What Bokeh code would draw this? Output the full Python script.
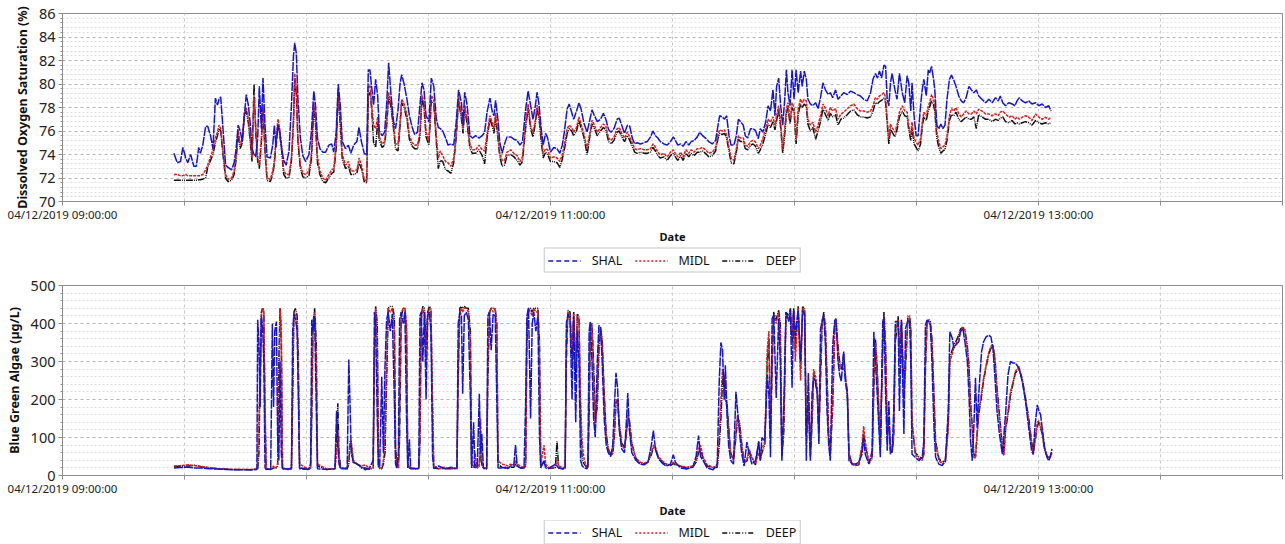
from bokeh.plotting import figure
from bokeh.models import FixedTicker, Legend, LegendItem, Range1d, ColumnDataSource
from bokeh.layouts import column
from bokeh.embed import file_html
from bokeh.resources import INLINE

# ---------------- data ----------------
series_names = ["SHAL", "MIDL", "DEEP"]

# minutes after 04/12/2019 09:00:00
do_minutes = [
    27.4, 28.2, 29.0, 29.6, 30.3, 30.8, 31.5, 32.3, 32.9, 33.5, 33.9, 34.5, 35.2, 35.7, 36.4, 37.0, 37.6, 38.1, 38.5, 38.9,
    39.4, 40.1, 40.7, 41.6, 42.2, 42.7, 43.2, 43.7, 44.2, 44.7, 45.2, 45.7, 46.2, 46.6, 47.1, 47.5, 48.0, 48.4, 48.9, 49.3,
    49.8, 50.3, 51.1, 51.7, 52.1, 52.5, 53.0, 53.4, 53.9, 54.4, 55.0, 55.7, 56.3, 56.8, 57.1, 57.5, 57.9, 58.5, 59.1, 59.8,
    60.6, 61.2, 61.8, 62.2, 62.7, 63.3, 64.0, 64.7, 65.5, 66.2, 66.7, 67.3, 67.8, 68.3, 68.8, 69.6, 70.3, 70.9, 71.6, 72.4,
    72.9, 73.5, 74.2, 74.8, 75.2, 75.6, 76.0, 76.5, 77.0, 77.5, 77.9, 78.6, 79.2, 79.7, 80.2, 80.8, 81.4, 81.9, 82.5, 83.0,
    83.4, 84.0, 84.7, 85.3, 86.0, 86.6, 87.3, 87.9, 88.4, 88.9, 89.4, 90.1, 90.7, 91.3, 91.9, 92.4, 92.9, 93.5, 94.2, 94.8,
    95.5, 96.2, 96.8, 97.4, 98.1, 98.5, 98.9, 99.5, 100.2, 100.8, 101.6, 102.4, 103.2, 103.8, 104.4, 105.1, 105.7, 106.1, 106.5, 107.1,
    107.5, 108.1, 108.7, 109.3, 110.2, 111.0, 111.8, 112.5, 113.1, 113.9, 114.5, 115.1, 115.7, 116.3, 116.7, 117.2, 117.7, 118.2, 118.8, 119.3,
    120.0, 120.8, 121.6, 122.3, 122.9, 123.4, 124.1, 124.6, 125.2, 125.7, 126.4, 127.0, 127.5, 128.2, 129.0, 129.7, 130.2, 130.8, 131.5, 132.3,
    133.0, 133.6, 134.3, 134.9, 135.6, 136.4, 136.9, 137.5, 138.2, 138.9, 139.5, 140.1, 140.7, 141.3, 142.1, 143.0, 143.8, 144.6, 145.2, 145.8,
    146.4, 147.0, 147.9, 148.7, 149.5, 150.2, 150.7, 151.3, 152.0, 152.6, 153.3, 154.0, 154.6, 155.3, 156.1, 156.7, 157.4, 158.1, 158.9, 159.8,
    160.6, 161.2, 161.6, 162.2, 162.8, 163.3, 163.9, 164.4, 165.1, 165.7, 166.2, 166.7, 167.4, 167.9, 168.5, 169.2, 169.8,
    170.4, 171.1, 171.6, 172.2, 172.9, 173.5, 174.1, 174.7, 175.2, 175.6, 176.1, 176.6, 177.1, 177.6, 178.0, 178.4, 178.9, 179.4, 179.9, 180.4,
    180.9, 181.5, 181.9, 182.4, 182.9, 183.3, 183.9, 184.5, 185.2, 185.8, 186.4, 187.0, 187.6, 188.3, 188.8, 189.4, 190.1, 190.7, 191.4, 192.1,
    193.0, 193.8, 194.6, 195.4, 196.2, 197.0, 197.9, 198.7, 199.3, 199.9, 200.4, 200.9, 201.4, 202.0, 202.4, 202.8, 203.2, 203.6, 204.0, 204.7,
    205.2, 205.8, 206.5, 207.1, 207.7, 208.1, 208.6, 208.9, 209.4, 209.9, 210.4, 211.0, 211.4, 211.8, 212.4, 212.9, 213.2, 213.7, 214.2, 214.5,
    215.0, 215.5, 216.0, 216.5, 217.0, 217.5, 218.1, 218.6, 219.2, 219.7, 220.4, 221.0, 221.6, 222.2, 222.9, 223.5, 224.1, 224.7, 225.3, 226.1,
    227.0, 227.8, 228.6, 229.4, 230.1, 230.6, 231.2, 231.9, 232.7, 233.5, 234.2, 234.7, 235.3, 236.0, 236.8, 237.6, 238.4, 239.3, 240.1, 240.9,
    241.7, 242.5, 243.1,
]
do_shal = [
    74.1, 73.3, 73.4, 74.6, 73.7, 73.3, 74.0, 73.0, 73.0, 74.6, 74.1, 74.8, 76.4, 76.4, 75.6, 74.5, 78.8, 78.2, 78.7, 78.9,
    76.5, 73.1, 72.9, 72.7, 73.3, 74.5, 76.5, 76.0, 75.1, 77.3, 79.1, 78.2, 76.5, 74.5, 74.0, 73.8, 75.4, 79.8, 76.2, 80.5,
    76.5, 73.8, 73.7, 74.8, 76.5, 74.6, 76.5, 76.0, 74.5, 73.5, 73.1, 74.3, 78.2, 82.4, 83.5, 82.6, 78.7, 75.4, 73.9, 73.4,
    74.0, 75.9, 79.4, 78.2, 75.4, 74.5, 74.2, 74.2, 74.8, 74.9, 74.2, 75.9, 80.0, 78.2, 75.1, 74.5, 74.8, 74.1, 74.8, 75.1,
    76.3, 75.1, 74.1, 74.0, 81.2, 81.2, 79.8, 78.2, 80.4, 79.0, 76.0, 75.6, 75.9, 78.2, 81.8, 79.0, 76.8, 76.2, 77.8, 80.0,
    80.8, 80.0, 78.7, 77.3, 76.3, 75.7, 75.9, 78.2, 80.1, 79.5, 77.3, 76.8, 80.5, 79.8, 77.1, 76.3, 76.2, 76.0, 75.4, 74.8,
    74.9, 74.8, 76.7, 79.5, 78.4, 76.5, 79.3, 78.2, 75.6, 75.4, 75.6, 75.4, 75.6, 75.9, 77.6, 78.8, 77.6, 77.3, 78.6, 76.9,
    75.1, 74.1, 74.9, 75.5, 75.5, 75.3, 75.2, 74.8, 75.1, 77.9, 79.4, 78.2, 77.0, 78.2, 79.3, 78.2, 76.2, 74.8, 75.8, 75.4,
    74.2, 74.6, 74.5, 74.1, 74.8, 75.9, 77.9, 78.3, 77.6, 77.0, 77.7, 78.4, 77.9, 76.7, 75.9, 77.0, 77.8, 77.3, 76.8, 77.0,
    77.5, 77.0, 76.1, 75.9, 76.2, 77.0, 77.1, 76.5, 75.8, 76.5, 76.4, 75.4, 74.9, 75.0, 74.9, 75.0, 75.1, 75.5, 76.0, 75.6,
    75.4, 75.1, 74.9, 74.8, 75.1, 75.5, 75.2, 74.8, 74.9, 74.7, 75.1, 74.8, 75.1, 75.2, 75.5, 75.9, 75.6, 75.4, 75.1, 74.9,
    75.2, 76.5, 77.3, 77.2, 77.0, 77.3, 75.6, 74.8, 74.8, 75.6, 77.0, 76.8, 76.5, 75.6, 75.4, 76.2, 76.2,
    76.05, 75.35, 76.2, 75.9, 76.75, 78.15, 77.7, 79.5, 77.3, 79.8, 80.5, 78.15, 76.5, 78.7, 81.2, 79.26, 78.15, 81.2, 78.7, 81.2,
    79.26, 81.1, 79.8, 81.1, 80.4, 78.7, 78.3, 78.15, 78.4, 77.9, 78.84, 80.1, 79.5, 79.1, 79.26, 78.84, 79.5, 78.7, 78.98, 79.26,
    79.1, 79.4, 79.26, 79.1, 78.98, 78.7, 78.56, 79.26, 80.4, 80.9, 80.5, 81.1, 80.5, 81.6, 81.5, 78.7, 78.15, 80.1, 80.9, 79.5,
    78.7, 80.9, 79.26, 78.4, 80.7, 80.1, 77.7, 80.1, 77.3, 75.6, 75.6, 78.15, 79.5, 80.4, 79.0, 81.2, 80.9, 81.5, 80.4, 79.5,
    76.5, 76.2, 76.6, 76.2, 76.5, 78.7, 80.4, 80.75, 80.3, 79.8, 78.98, 78.56, 78.4, 78.84, 79.8, 79.5, 79.26, 79.5, 78.98, 78.7,
    78.4, 78.7, 78.4, 78.84, 78.56, 78.98, 78.4, 78.15, 78.4, 78.3, 78.15, 78.56, 78.84, 78.56, 78.4, 78.56, 78.3, 78.4, 78.15, 78.3,
    78.0, 78.15, 77.7,
]
do_midl = [
    72.3, 72.3, 72.2, 72.2, 72.3, 72.2, 72.2, 72.2, 72.2, 72.2, 72.2, 72.3, 72.7, 73.1, 73.8, 74.4, 75.4, 75.9, 76.5, 76.2,
    74.5, 72.3, 71.9, 72.0, 72.6, 73.9, 76.1, 74.8, 75.3, 77.5, 78.0, 77.0, 75.3, 73.7, 78.8, 76.6, 73.7, 73.1, 75.3, 78.2,
    74.5, 72.0, 71.9, 72.6, 73.5, 75.4, 77.0, 76.2, 74.6, 72.6, 72.3, 72.3, 73.8, 77.0, 80.9, 79.5, 75.3, 73.1, 72.4, 72.3,
    72.6, 74.0, 78.4, 77.0, 73.8, 72.6, 72.0, 71.8, 72.3, 72.7, 72.8, 74.9, 79.5, 76.8, 74.0, 73.1, 73.4, 72.6, 72.6, 72.7,
    73.7, 73.1, 71.9, 71.7, 79.7, 79.9, 78.4, 76.5, 76.2, 77.2, 75.5, 74.9, 75.1, 76.8, 79.3, 78.4, 76.5, 74.9, 74.9, 76.8,
    78.7, 78.3, 77.4, 75.6, 75.0, 74.8, 74.8, 75.9, 79.1, 78.4, 75.9, 75.1, 79.0, 78.7, 75.6, 73.7, 74.3, 73.9, 73.4, 73.3,
    73.0, 73.7, 75.7, 78.9, 77.4, 76.2, 78.2, 77.0, 74.9, 74.4, 74.4, 74.8, 74.4, 74.3, 75.8, 77.3, 76.7, 76.2, 77.5, 75.6,
    74.2, 73.5, 73.5, 74.2, 74.4, 74.1, 73.9, 73.4, 73.8, 76.7, 78.3, 76.5, 75.8, 77.0, 78.2, 77.3, 75.6, 74.1, 74.5, 74.4,
    73.7, 73.8, 73.7, 73.4, 74.0, 74.8, 76.2, 76.5, 76.3, 75.9, 76.3, 77.2, 76.6, 75.8, 74.5, 75.9, 76.9, 76.5, 75.9, 76.3,
    76.6, 76.4, 75.4, 75.2, 75.5, 76.2, 76.3, 75.8, 75.4, 75.9, 75.5, 75.0, 74.5, 74.4, 74.5, 74.4, 74.4, 74.5, 74.9, 74.6,
    74.2, 73.96, 74.1, 73.8, 74.2, 74.4, 74.1, 73.8, 74.2, 73.8, 74.4, 74.1, 74.4, 74.2, 74.5, 74.5, 74.6, 74.4, 74.1, 74.2,
    74.6, 75.7, 76.1, 76.0, 76.1, 75.7, 74.6, 73.7, 73.5, 74.5, 75.6, 75.4, 75.4, 74.8, 74.7, 75.1, 75.2,
    75.07, 74.5, 74.8, 75.35, 76.2, 77.0, 76.75, 77.2, 76.5, 77.3, 78.15, 76.75, 74.4, 76.2, 77.9, 78.4, 77.0, 78.4, 78.0, 75.35,
    77.9, 78.7, 78.4, 78.7, 78.56, 77.0, 76.5, 76.75, 75.9, 76.5, 77.3, 78.3, 77.9, 77.3, 78.0, 77.7, 77.9, 77.0, 77.45, 77.6,
    77.9, 78.15, 78.3, 77.9, 77.7, 77.7, 77.6, 77.7, 78.15, 78.84, 78.7, 78.98, 79.1, 79.26, 78.84, 77.0, 75.35, 76.6, 76.3, 75.9,
    76.5, 77.6, 78.15, 77.7, 77.6, 76.5, 75.6, 76.75, 75.35, 75.07, 74.8, 75.35, 76.75, 77.6, 77.3, 78.15, 78.4, 79.1, 78.7, 78.15,
    75.9, 75.07, 74.5, 74.65, 74.8, 75.6, 77.3, 77.9, 77.7, 78.0, 77.45, 77.2, 77.45, 77.7, 77.45, 77.45, 77.7, 77.45, 77.87, 77.7,
    77.45, 77.45, 77.3, 77.45, 77.3, 77.6, 77.7, 77.45, 77.17, 77.3, 77.0, 77.17, 77.0, 77.17, 77.3, 77.17, 76.9, 77.45, 77.17, 77.0,
    77.17, 77.0, 77.17,
]
do_deep = [
    71.8, 71.8, 71.8, 71.8, 71.8, 71.8, 71.8, 71.8, 71.8, 71.85, 71.85, 71.9, 72.0, 72.9, 73.5, 74.0, 75.0, 75.6, 76.2, 76.0,
    74.2, 72.0, 71.7, 71.8, 72.3, 73.6, 75.8, 74.5, 75.0, 77.2, 77.7, 76.7, 75.0, 73.4, 80.0, 76.0, 73.4, 72.8, 75.0, 77.8,
    74.2, 71.8, 71.7, 72.3, 73.2, 75.0, 76.6, 75.8, 74.3, 72.3, 72.0, 72.0, 73.5, 76.7, 80.5, 79.2, 75.0, 72.8, 72.1, 72.0,
    72.2, 73.6, 78.0, 76.7, 73.3, 72.3, 71.7, 71.6, 72.0, 72.4, 72.5, 74.5, 79.3, 76.5, 73.6, 72.8, 73.0, 72.3, 72.3, 72.4,
    73.3, 72.8, 71.7, 71.6, 79.0, 79.3, 78.0, 75.0, 74.6, 76.8, 75.2, 74.6, 74.8, 76.4, 78.9, 78.0, 76.2, 74.5, 74.3, 76.4,
    78.4, 78.0, 77.0, 75.3, 74.7, 74.5, 74.5, 75.6, 78.8, 78.0, 75.5, 74.8, 78.6, 78.3, 75.2, 72.8, 73.5, 73.4, 72.7, 72.6,
    72.4, 73.3, 75.4, 78.6, 77.0, 75.8, 77.9, 76.6, 74.5, 74.1, 74.1, 74.4, 73.9, 73.2, 75.4, 77.0, 76.4, 75.8, 77.2, 75.3,
    73.9, 73.0, 73.1, 73.9, 74.0, 73.8, 73.5, 73.1, 73.4, 76.3, 78.0, 76.2, 75.5, 76.7, 77.9, 77.0, 75.2, 73.7, 74.2, 74.0,
    73.4, 73.4, 73.3, 72.9, 73.6, 74.4, 75.8, 76.2, 76.0, 75.6, 76.0, 76.9, 76.3, 75.5, 74.0, 75.6, 76.6, 76.2, 75.6, 76.0,
    76.3, 76.1, 75.1, 74.9, 75.2, 75.9, 76.0, 75.5, 75.1, 75.6, 75.2, 74.7, 74.2, 74.1, 74.2, 74.1, 74.1, 74.2, 74.6, 74.3,
    73.9, 73.7, 73.8, 73.5, 73.9, 74.1, 73.8, 73.5, 73.9, 73.5, 74.1, 73.8, 74.1, 73.9, 74.2, 74.2, 74.3, 74.1, 73.8, 73.9,
    74.3, 75.4, 75.8, 75.7, 75.8, 75.4, 74.3, 73.3, 73.2, 74.2, 75.3, 75.1, 75.1, 74.5, 74.4, 74.8, 74.9,
    74.7, 74.1, 74.4, 74.9, 75.7, 76.6, 76.3, 76.8, 76.1, 76.9, 77.8, 76.3, 74.1, 75.7, 77.5, 78.0, 76.6, 78.0, 77.6, 74.9,
    77.4, 78.3, 78.0, 78.3, 78.1, 76.6, 76.0, 76.3, 75.3, 76.0, 76.8, 77.9, 77.4, 76.9, 77.5, 77.2, 77.4, 76.5, 77.0, 77.1,
    77.4, 77.7, 77.8, 77.4, 77.2, 77.2, 77.1, 77.2, 77.7, 78.4, 78.3, 78.5, 78.6, 78.8, 78.4, 76.6, 74.9, 76.2, 75.9, 75.5,
    76.1, 77.2, 77.7, 77.3, 77.2, 76.1, 75.2, 76.3, 74.9, 74.6, 74.3, 74.9, 76.3, 77.2, 76.9, 77.7, 78.0, 78.6, 78.2, 77.7,
    75.4, 74.6, 74.1, 74.3, 74.4, 75.2, 76.9, 77.4, 77.3, 77.6, 77.0, 76.8, 77.0, 77.2, 77.0, 77.0, 77.2, 76.2, 77.4, 77.2,
    77.0, 77.0, 76.8, 77.0, 76.9, 77.1, 77.2, 76.8, 76.7, 76.9, 76.6, 76.7, 76.6, 76.7, 76.8, 76.7, 76.5, 76.9, 76.7, 76.6,
    76.7, 76.6, 76.7,
]

bga_minutes = [
    27.4, 29.0, 31.0, 32.5, 34.0, 36.0, 38.0, 40.0, 42.0, 44.0, 46.0, 47.8, 48.0, 48.3, 48.6, 48.9, 49.2, 49.5, 49.8, 50.1,
    51.2, 51.6, 51.9, 52.2, 52.6, 52.9, 53.2, 53.5, 53.8, 54.1, 55.5, 56.3, 56.6, 56.9, 57.3, 57.7, 58.0, 58.3, 60.5, 61.0,
    61.3, 61.6, 62.0, 62.4, 62.7, 65.0, 67.0, 67.4, 67.7, 68.0, 68.4, 70.0, 70.4, 70.7, 71.0, 71.5, 72.5, 73.5, 74.5, 75.5,
    76.4, 76.7, 77.0, 77.4, 77.7, 78.0, 78.5, 78.9, 79.3, 79.7, 80.1, 80.6, 81.1, 81.6, 81.9, 82.2, 82.6, 82.9, 83.3, 83.8,
    84.2, 84.6, 84.9, 85.3, 85.6, 87.0, 87.6, 87.9, 88.2, 88.6, 89.0, 89.4, 89.8, 90.2, 90.6, 91.0, 91.3, 92.5, 93.5, 94.5,
    95.5, 96.5, 97.0, 97.3, 97.7, 98.1, 98.4, 98.8, 99.3, 99.8, 100.3, 100.6, 101.1, 101.4, 102.0, 102.5, 102.8, 103.1, 103.5, 104.3,
    104.6, 105.0, 105.4, 105.9, 106.4, 106.8, 107.1, 108.0, 108.8, 109.5, 110.2, 111.0, 111.4, 111.8, 112.6, 113.5, 113.9, 114.2, 114.6, 115.1,
    115.5, 115.9, 116.4, 116.9, 117.3, 117.6, 118.4, 118.8, 119.5, 120.5, 121.2, 121.6, 122.0, 123.0, 123.6, 123.9, 124.3, 124.8, 125.3, 125.7,
    126.2, 126.6, 127.0, 127.4, 127.8, 128.3, 129.0, 129.2, 129.5, 129.8, 130.2, 130.6, 131.0, 131.5, 131.9, 132.3, 132.7, 133.2, 133.7, 134.2,
    134.8, 135.3, 135.7, 136.1, 136.5, 136.9, 137.5, 138.2, 138.7, 139.0, 139.4, 140.0, 141.0, 142.0, 143.0, 144.0, 144.8, 145.3, 145.8, 146.5,
    147.5, 148.5, 149.5, 150.2, 150.7, 152.0, 153.5, 155.0, 155.8, 156.4, 156.9, 157.5, 158.5, 160.0, 161.0, 161.5, 161.9, 162.3, 162.7, 163.0,
    163.4, 163.8, 164.3, 165.0, 165.6, 166.0, 166.5, 167.0, 167.6, 168.3, 168.8, 169.5,
    170.4, 171.2, 171.6, 172.0, 172.7, 173.3, 173.7, 174.1, 174.5, 174.9, 175.5, 176.1, 176.5, 176.9, 177.4, 177.9, 178.6, 179.0, 179.4, 179.8,
    180.2, 180.9, 181.5, 182.0, 182.5, 182.9, 183.4, 183.9, 184.3, 184.7, 185.2, 185.6, 186.0, 186.4, 186.8, 187.2, 187.6, 188.0, 188.4, 188.8,
    189.4, 189.9, 190.2, 190.7, 191.1, 191.5, 192.1, 192.5, 193.0, 193.4, 194.2, 195.0, 195.8, 196.6, 197.0, 197.4, 198.3, 199.1, 199.5, 199.9,
    200.3, 201.1, 201.7, 202.0, 202.4, 202.8, 203.2, 203.6, 204.0, 204.4, 204.8, 205.5, 205.8, 206.3, 206.9, 207.3, 207.9, 208.3, 208.6, 208.9,
    209.7, 210.6, 211.4, 211.8, 212.2, 212.6, 213.0, 213.4, 213.8, 214.3, 214.7, 215.5, 216.3, 217.1, 217.8, 218.2, 218.8, 219.2, 219.6, 220.4,
    220.8, 221.4, 221.9, 222.5, 222.9, 223.3, 223.7, 224.1, 224.5, 224.9, 225.3, 226.0, 226.5, 227.1, 227.8, 228.3, 228.8, 229.3, 229.8, 230.4,
    231.1, 231.5, 231.9, 232.5, 233.1, 233.7, 234.3, 235.2, 236.0, 236.8, 237.6, 238.3, 238.7, 239.1, 239.7, 240.1, 240.5, 240.9, 241.5, 242.1,
    242.5, 242.9, 243.3,
]
bga_shal = [
    20, 21, 22, 20, 20, 18, 17, 16, 15, 15, 15, 16, 410, 350, 180, 420, 395, 300, 20, 16,
    18, 400, 180, 380, 405, 100, 40, 300, 60, 18, 17, 20, 380, 425, 410, 380, 200, 18, 16, 30,
    410, 380, 420, 180, 18, 16, 18, 170, 80, 30, 18, 18, 305, 190, 60, 35, 30, 22, 15, 20,
    40, 430, 400, 150, 20, 25, 260, 60, 285, 410, 430, 380, 425, 200, 30, 20, 60, 410, 430, 400,
    430, 150, 20, 95, 20, 18, 20, 420, 430, 300, 430, 200, 420, 430, 380, 50, 18, 25, 20, 18,
    22, 18, 20, 400, 430, 420, 215, 420, 430, 410, 200, 20, 140, 20, 25, 215, 60, 110, 20, 20,
    420, 430, 330, 425, 420, 200, 20, 20, 22, 18, 25, 30, 80, 25, 20, 22, 200, 420, 440, 150,
    400, 430, 380, 420, 100, 20, 40, 20, 18, 25, 30, 25, 20, 18, 20, 400, 425, 410, 200, 420,
    140, 380, 300, 40, 25, 20, 18, 30, 380, 405, 300, 150, 100, 300, 395, 390, 300, 150, 80, 60,
    50, 80, 180, 270, 230, 120, 70, 60, 150, 217, 120, 60, 40, 30, 28, 35, 80, 118, 70, 45,
    32, 25, 30, 55, 35, 20, 17, 22, 50, 105, 50, 40, 20, 15, 30, 250, 350, 330, 200, 290,
    160, 80, 40, 30, 220, 170, 110, 60, 25, 88, 60, 30,
    39, 87, 39, 100, 91, 265, 213, 48, 413, 422, 204, 413, 300, 39, 200, 430, 405, 435, 231, 435,
    369, 435, 300, 435, 422, 39, 270, 39, 213, 257, 248, 213, 83, 387, 405, 422, 343, 170, 83, 39,
    343, 408, 413, 300, 265, 248, 326, 248, 213, 39, 30, 30, 35, 56, 100, 56, 30, 65, 378, 300,
    222, 48, 405, 417, 213, 65, 196, 56, 65, 170, 405, 405, 170, 405, 109, 387, 409, 405, 300, 56,
    48, 39, 48, 91, 396, 409, 405, 396, 300, 126, 48, 30, 26, 39, 170, 378, 361, 335, 343, 352,
    378, 387, 352, 300, 213, 91, 39, 126, 257, 126, 213, 326, 352, 365, 369, 365, 335, 257, 170, 109,
    56, 109, 161, 265, 300, 296, 296, 283, 248, 196, 126, 65, 56, 126, 186, 170, 161, 126, 74, 48,
    39, 48, 70,
]
bga_midl = [
    25, 26, 28, 26, 24, 21, 18, 17, 16, 16, 16, 17, 20, 150, 300, 420, 440, 430, 200, 18,
    17, 20, 25, 20, 22, 30, 200, 440, 400, 20, 16, 18, 250, 430, 420, 400, 250, 30, 16, 20,
    200, 380, 430, 300, 30, 17, 18, 60, 120, 40, 20, 20, 40, 90, 90, 40, 30, 25, 28, 18,
    20, 350, 440, 350, 30, 20, 20, 40, 100, 300, 440, 430, 440, 380, 60, 30, 20, 200, 430, 440,
    440, 400, 30, 22, 20, 18, 18, 100, 400, 440, 420, 300, 420, 440, 430, 200, 25, 18, 22, 20,
    18, 20, 18, 300, 430, 440, 430, 440, 440, 430, 350, 30, 25, 60, 20, 30, 150, 40, 20, 18,
    300, 430, 440, 430, 440, 380, 40, 30, 28, 25, 30, 25, 40, 30, 25, 20, 30, 400, 440, 430,
    420, 440, 430, 430, 300, 30, 80, 30, 22, 20, 25, 40, 25, 22, 20, 350, 430, 420, 330, 425,
    300, 420, 410, 200, 80, 40, 22, 25, 200, 400, 395, 250, 120, 200, 360, 390, 350, 200, 100, 70,
    55, 60, 110, 200, 190, 130, 80, 70, 120, 160, 140, 80, 45, 35, 32, 38, 60, 80, 75, 50,
    38, 30, 28, 35, 30, 25, 22, 25, 40, 70, 80, 50, 28, 22, 25, 100, 200, 280, 250, 200,
    180, 120, 60, 40, 120, 160, 130, 80, 35, 40, 70, 50,
    30, 60, 40, 70, 90, 330, 380, 120, 300, 420, 400, 430, 380, 60, 150, 420, 410, 430, 380, 435,
    300, 440, 250, 440, 430, 120, 200, 60, 150, 280, 260, 230, 120, 300, 410, 420, 380, 250, 100, 50,
    200, 400, 410, 330, 280, 290, 280, 270, 200, 60, 30, 28, 30, 80, 130, 90, 35, 50, 250, 350,
    280, 80, 350, 420, 330, 100, 150, 70, 60, 120, 380, 410, 300, 400, 200, 300, 410, 415, 380, 150,
    55, 45, 40, 60, 300, 400, 410, 400, 350, 200, 80, 40, 30, 35, 120, 300, 320, 340, 343, 365,
    380, 390, 380, 330, 280, 180, 126, 48, 45, 100, 170, 220, 257, 290, 326, 340, 345, 300, 220, 150,
    70, 52, 126, 170, 220, 245, 274, 287, 250, 200, 140, 85, 55, 90, 140, 144, 130, 115, 70, 52,
    48, 52, 60,
]
bga_deep = [
    23, 24, 25, 27, 23, 20, 18, 17, 16, 16, 15, 16, 18, 60, 260, 430, 440, 435, 150, 17,
    16, 18, 20, 20, 20, 25, 300, 440, 350, 18, 16, 18, 200, 430, 440, 420, 300, 20, 16, 18,
    150, 400, 440, 350, 25, 16, 18, 100, 190, 60, 20, 18, 30, 80, 85, 35, 30, 20, 20, 16,
    20, 300, 445, 400, 25, 18, 18, 30, 60, 250, 440, 445, 445, 420, 80, 30, 20, 100, 420, 440,
    440, 380, 30, 20, 18, 18, 18, 80, 420, 445, 440, 350, 430, 445, 440, 150, 20, 18, 18, 18,
    18, 18, 18, 250, 440, 445, 440, 445, 440, 440, 380, 30, 20, 30, 20, 25, 70, 30, 18, 18,
    250, 430, 440, 440, 440, 400, 30, 22, 20, 20, 22, 22, 30, 25, 20, 20, 25, 350, 440, 440,
    430, 440, 440, 440, 350, 25, 35, 25, 20, 20, 20, 90, 20, 18, 18, 300, 435, 430, 300, 430,
    250, 425, 420, 150, 40, 30, 20, 22, 150, 390, 400, 300, 150, 180, 330, 385, 360, 220, 110, 70,
    55, 55, 100, 190, 200, 140, 85, 75, 110, 150, 145, 85, 45, 35, 30, 36, 55, 75, 70, 48,
    35, 28, 26, 32, 28, 24, 20, 22, 35, 60, 70, 45, 25, 20, 22, 80, 150, 250, 260, 220,
    190, 130, 60, 40, 100, 150, 140, 85, 35, 38, 65, 45,
    28, 90, 45, 60, 80, 300, 360, 100, 280, 430, 410, 435, 400, 50, 120, 430, 420, 440, 350, 440,
    330, 445, 280, 445, 440, 100, 180, 50, 130, 270, 240, 220, 110, 250, 400, 430, 390, 260, 110, 60,
    180, 390, 405, 340, 300, 280, 320, 260, 220, 55, 28, 26, 28, 70, 110, 80, 32, 45, 220, 360,
    290, 70, 330, 430, 340, 110, 130, 65, 60, 100, 350, 420, 320, 410, 230, 280, 420, 420, 390, 130,
    60, 50, 45, 55, 280, 405, 410, 405, 360, 210, 90, 45, 35, 40, 130, 310, 330, 345, 350, 370,
    385, 390, 385, 340, 290, 190, 130, 55, 50, 110, 160, 210, 250, 285, 320, 335, 340, 310, 230, 160,
    80, 60, 120, 160, 210, 240, 270, 280, 255, 205, 150, 90, 60, 85, 130, 140, 125, 110, 68, 50,
    45, 50, 58,
]

x_tick_minutes = [0, 30, 60, 90, 120, 150, 180, 210, 240, 270, 300]
x_tick_labels = ["04/12/2019 09:00:00", "", "", "", "04/12/2019 11:00:00", "", "",
                 "", "04/12/2019 13:00:00", "", ""]

# ---------------- styling ----------------
FONT = "Noto Sans"
COLORS = ["#1414d2", "#dc1e1e", "#111111"]
LINE_DASHES = ["9 1", "3 1", "7 1 1 1 1 1"]
LEGEND_DASHES = ["5 3", "2 2", "5 2 1 2 1 2"]
FIG_W = 1284
BORDER_L = 62
BORDER_R = 2


def make_fig(height, ylabel, y0, y1, ystep, nminor, minutes, series, border_top, border_bottom):
    p = figure(width=FIG_W, height=height, output_backend="svg", toolbar_location=None,
               x_range=Range1d(0, 300), y_range=Range1d(y0, y1),
               min_border_left=BORDER_L, min_border_right=BORDER_R, min_border_top=border_top,
               min_border_bottom=border_bottom)
    p.background_fill_color = "white"
    p.border_fill_color = "white"
    p.outline_line_color = "#8c8c8c"
    p.outline_line_width = 1

    majors = []
    v = y0
    while v <= y1 + 1e-9:
        majors.append(round(v, 6))
        v += ystep
    minors = []
    for m in majors[:-1]:
        for k in range(1, nminor + 1):
            minors.append(round(m + k * ystep / (nminor + 1), 6))
    yt = FixedTicker(ticks=majors, minor_ticks=minors)
    p.yaxis.ticker = yt
    p.ygrid.ticker = yt
    xt = FixedTicker(ticks=x_tick_minutes, minor_ticks=[])
    p.xaxis.ticker = xt
    p.xgrid.ticker = xt
    p.xaxis.major_label_overrides = {t: lab for t, lab in zip(x_tick_minutes, x_tick_labels)}

    p.ygrid.grid_line_color = "#b4b4b4"
    p.ygrid.grid_line_dash = "3 3"
    p.ygrid.minor_grid_line_color = "#dcdcdc"
    p.ygrid.minor_grid_line_dash = "2 2"
    p.xgrid.grid_line_color = "#c8c8c8"
    p.xgrid.grid_line_dash = "3 3"

    for ax in (p.xaxis[0], p.yaxis[0]):
        ax.axis_line_color = "#8c8c8c"
        ax.major_tick_line_color = "#8c8c8c"
        ax.minor_tick_line_color = "#8c8c8c"
        ax.major_tick_in = 0
        ax.major_tick_out = 4
        ax.minor_tick_in = 0
        ax.minor_tick_out = 2
        ax.major_label_text_font = FONT
        ax.axis_label_text_font = FONT
        ax.axis_label_text_font_style = "bold"
        ax.axis_label_text_color = "#111111"
        ax.major_label_text_color = "#222222"
    p.xaxis.major_label_text_font_size = "11.5px"
    p.xaxis.major_label_standoff = 1
    p.xaxis.axis_label = "Date"
    p.xaxis.axis_label_text_font_size = "11px"
    p.xaxis.axis_label_standoff = 4
    p.yaxis.major_label_text_font_size = "14.5px"
    p.yaxis.major_label_standoff = 3
    p.yaxis.axis_label = ylabel
    p.yaxis.axis_label_text_font_size = "12.5px"
    p.yaxis.axis_label_standoff = 5

    for name, vals, col, dash in reversed(list(zip(series_names, series, COLORS, LINE_DASHES))):
        src = ColumnDataSource(dict(t=minutes, v=vals))
        p.line("t", "v", source=src, line_color=col, line_width=1.5, line_dash=dash)
    return p


def legend_strip(height):
    lf = figure(width=FIG_W, height=height, output_backend="svg", toolbar_location=None,
                x_range=Range1d(0, 1), y_range=Range1d(0, 1),
                x_axis_location=None, y_axis_location=None, min_border=0)
    lf.grid.visible = False
    lf.outline_line_color = None
    lf.background_fill_color = "white"
    lf.border_fill_color = "white"
    items = []
    for name, col, dash in zip(series_names, COLORS, LEGEND_DASHES):
        # sample renderer kept outside the visible range: it only supplies the legend swatch
        r = lf.line(x=[-3, -2], y=[-3, -3], line_color=col, line_width=1.5, line_dash=dash)
        items.append(LegendItem(label=name, renderers=[r]))
    leg = Legend(items=items, orientation="horizontal", location="center",
                 label_text_font=FONT, label_text_font_size="12.5px",
                 label_text_color="#111111", glyph_width=33, glyph_height=12,
                 label_height=12, label_standoff=11, spacing=12, padding=3, margin=0,
                 border_line_color="#8c8c8c", border_line_width=1,
                 background_fill_color="white", background_fill_alpha=1)
    lf.add_layout(leg)
    return lf


p1 = make_fig(246, "Dissolved Oxygen Saturation (%)", 70, 86, 2, 4, do_minutes,
              [do_shal, do_midl, do_deep], 13, 42)
l1 = legend_strip(28)
p2 = make_fig(246, "Blue Green Algae (\u00b5g/L)", 0, 500, 100, 4, bga_minutes,
              [bga_shal, bga_midl, bga_deep], 11, 42)
l2 = legend_strip(24)

layout = column(p1, l1, p2, l2, spacing=0)
open("out.html", "w").write(file_html(layout, INLINE))
